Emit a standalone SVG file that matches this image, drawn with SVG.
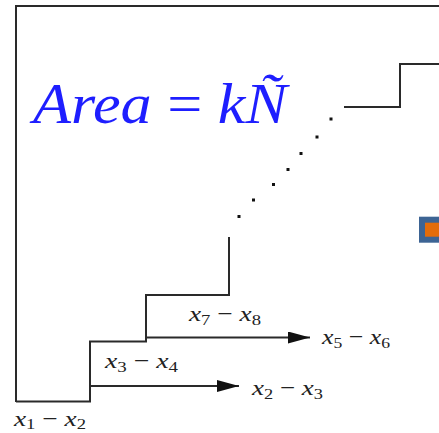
<svg xmlns="http://www.w3.org/2000/svg" width="439" height="433" viewBox="0 0 439 433">
  <defs>
    <marker id="arr" viewBox="0 0 22 12" refX="22" refY="6" markerWidth="22" markerHeight="12" markerUnits="userSpaceOnUse" orient="auto">
      <path d="M0,0 L22,6 L0,12 Z" fill="#111"/>
    </marker>
  </defs>
  <style>
    .ln { fill: none; stroke: #2a2a2a; stroke-width: 2; }
    .lbl { font-family: "Liberation Serif", "DejaVu Serif", serif; font-size: 22px; fill: #222; }
    .v { font-style: italic; }
    .sub { font-size: 15px; }
    .dot { fill: #111; }
    .formula { font-family: "Liberation Serif", "DejaVu Serif", serif; font-size: 56px; font-style: italic; fill: #1e1eff; }
  </style>
  <rect width="439" height="433" fill="#fff"/>
  <g id="frame">
    <path class="ln" d="M16,402 L16,6 L439,6" stroke="#444"/>
  </g>
  <g id="staircase">
    <path class="ln" d="M16,401.5 L90,401.5 L90,341.5 L146,341.5 L146,295 L229,295 L229,237"/>
    <path class="ln" d="M344,107 L400,107 L400,64 L439,64"/>
  </g>
  <g id="dots">
    <rect class="dot" x="237.5" y="215" width="3" height="3"/>
    <rect class="dot" x="252" y="198.5" width="3" height="3"/>
    <rect class="dot" x="272" y="183" width="3" height="3"/>
    <rect class="dot" x="286.5" y="168" width="3" height="3"/>
    <rect class="dot" x="299.5" y="152" width="3" height="3"/>
    <rect class="dot" x="315.5" y="135.5" width="3" height="3"/>
    <rect class="dot" x="329.5" y="117.5" width="3" height="3"/>
  </g>
  <g id="connectors">
    <line class="ln" x1="90" y1="386" x2="239" y2="386" marker-end="url(#arr)"/>
    <line class="ln" x1="146" y1="337.5" x2="310" y2="337.5" marker-end="url(#arr)"/>
  </g>
  <g id="formula">
    <text class="formula" x="33" y="123" textLength="254" lengthAdjust="spacingAndGlyphs">Area <tspan font-style="normal">=</tspan> kÑ</text>
  </g>
  <g id="legend-marker">
    <rect x="422" y="219.7" width="30" height="20" fill="#e46c0a" stroke="#3d6494" stroke-width="6"/>
  </g>
  <g id="label-x1-x2">
    <text class="lbl" x="14" y="426" textLength="72" lengthAdjust="spacingAndGlyphs"><tspan class="v">x</tspan><tspan class="sub" dy="3">1</tspan><tspan dy="-3"> − </tspan><tspan class="v">x</tspan><tspan class="sub" dy="3">2</tspan></text>
  </g>
  <g id="label-x3-x4">
    <text class="lbl" x="105" y="368" textLength="73" lengthAdjust="spacingAndGlyphs"><tspan class="v">x</tspan><tspan class="sub" dy="4">3</tspan><tspan dy="-4"> − </tspan><tspan class="v">x</tspan><tspan class="sub" dy="4">4</tspan></text>
  </g>
  <g id="label-x2-x3">
    <text class="lbl" x="252" y="395" textLength="71" lengthAdjust="spacingAndGlyphs"><tspan class="v">x</tspan><tspan class="sub" dy="4">2</tspan><tspan dy="-4"> − </tspan><tspan class="v">x</tspan><tspan class="sub" dy="4">3</tspan></text>
  </g>
  <g id="label-x7-x8">
    <text class="lbl" x="189" y="321" textLength="72" lengthAdjust="spacingAndGlyphs"><tspan class="v">x</tspan><tspan class="sub" dy="4">7</tspan><tspan dy="-4"> − </tspan><tspan class="v">x</tspan><tspan class="sub" dy="4">8</tspan></text>
  </g>
  <g id="label-x5-x6">
    <text class="lbl" x="322" y="344" textLength="68" lengthAdjust="spacingAndGlyphs"><tspan class="v">x</tspan><tspan class="sub" dy="4">5</tspan><tspan dy="-4"> − </tspan><tspan class="v">x</tspan><tspan class="sub" dy="4">6</tspan></text>
  </g>
</svg>
